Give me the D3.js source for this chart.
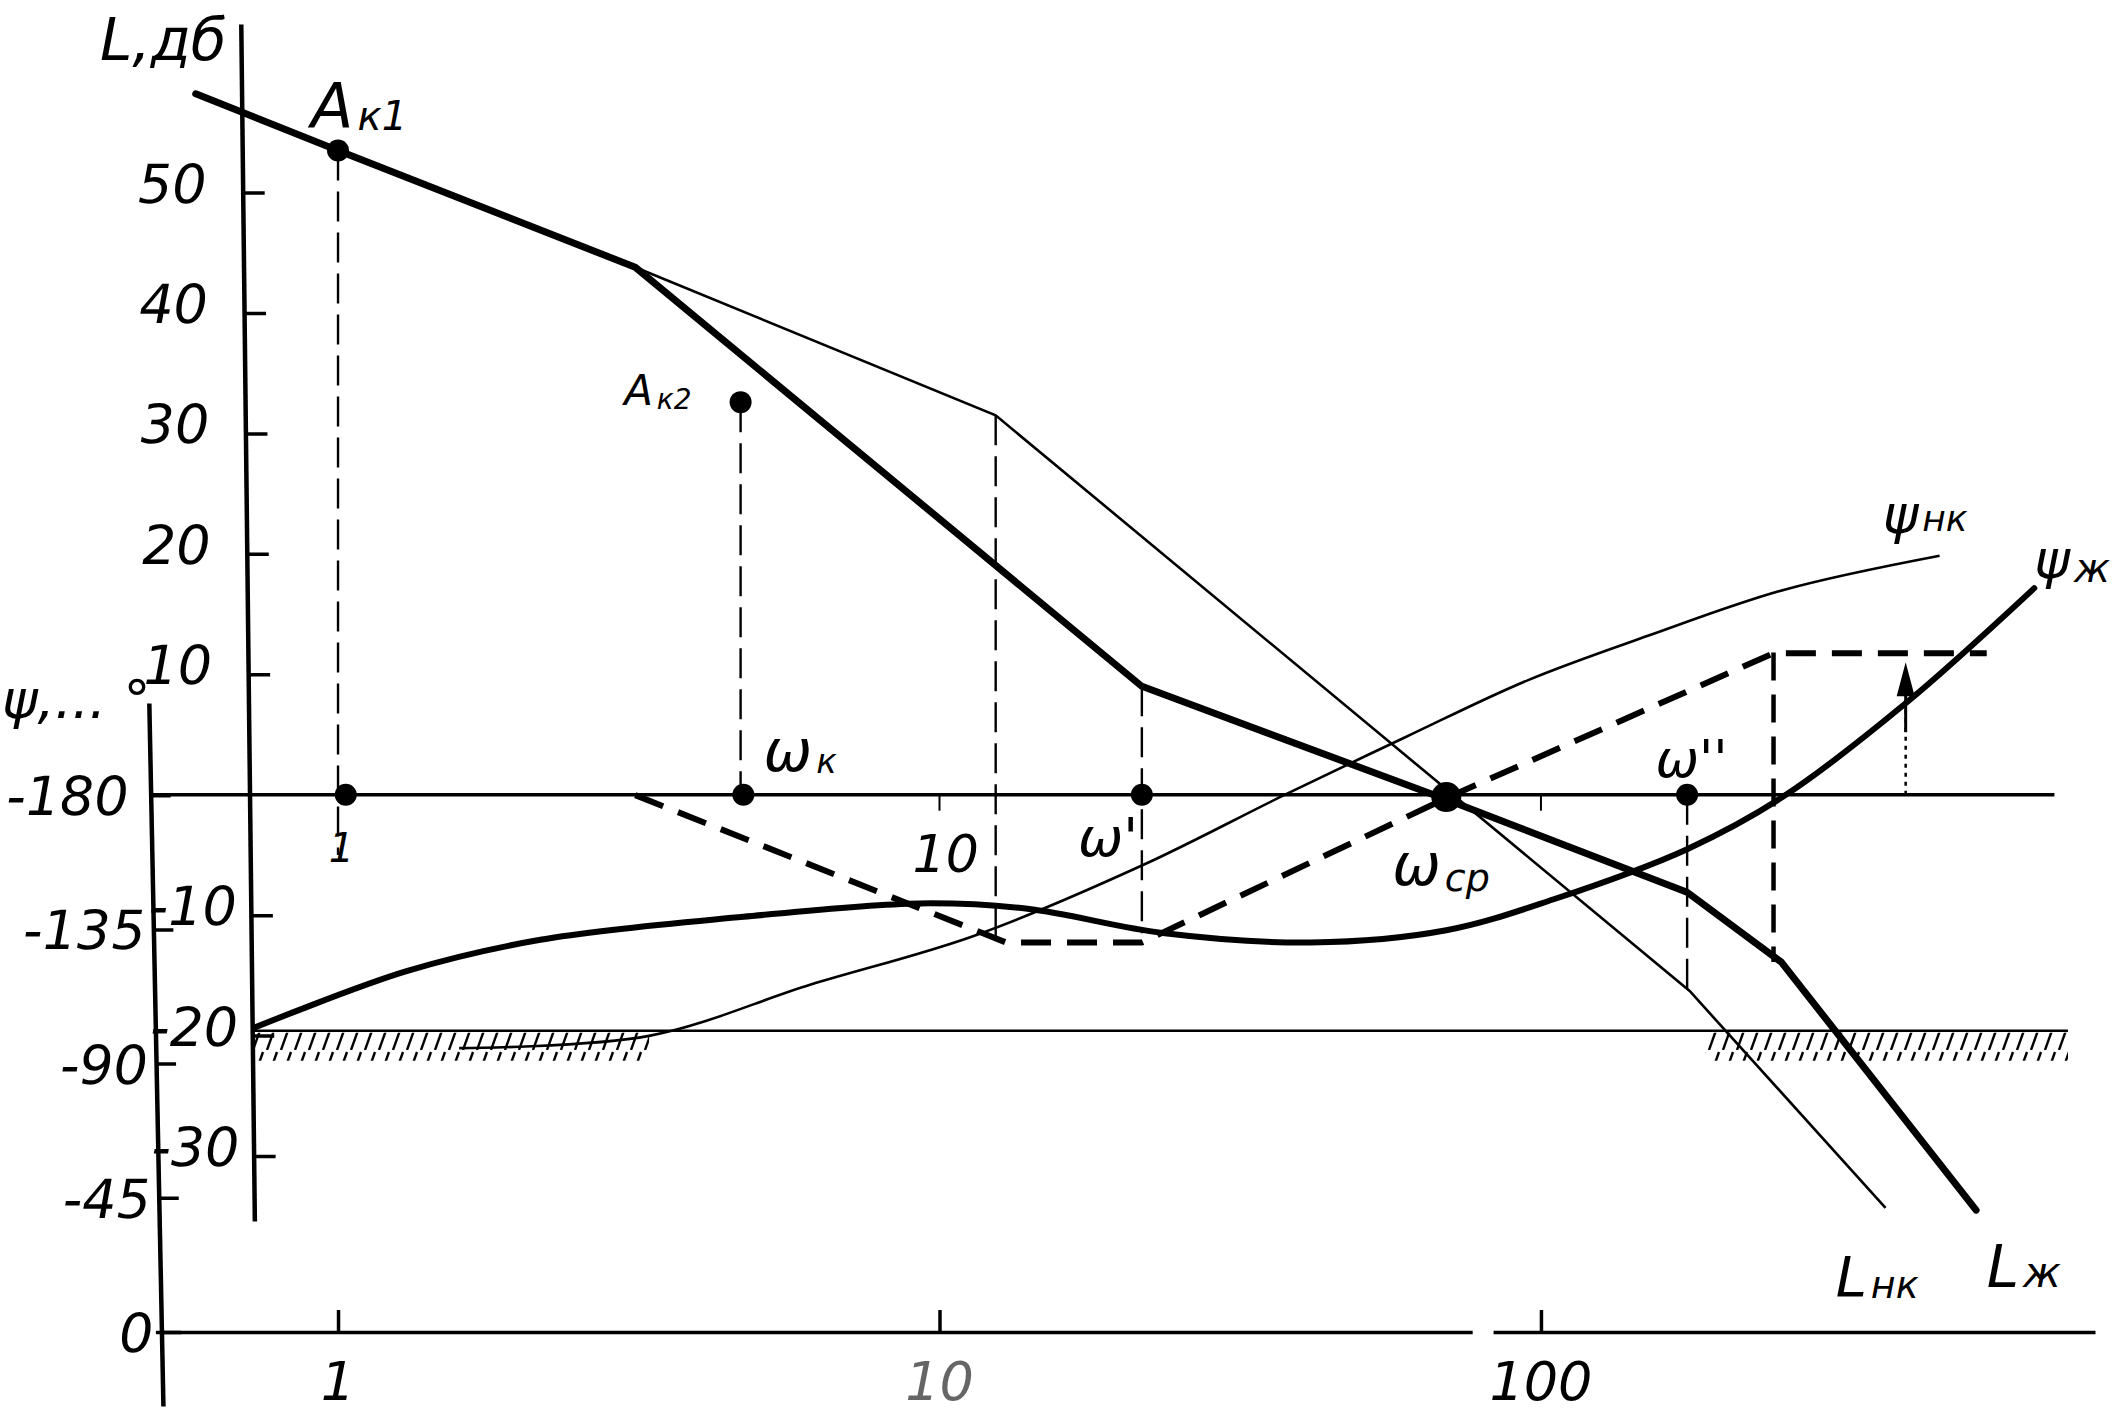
<!DOCTYPE html>
<html><head><meta charset="utf-8">
<script src="https://cdn.jsdelivr.net/npm/d3@7"></script>
<style>
html,body{margin:0;padding:0;background:#fff;}
svg{display:block;background:#fff;}
text{font-family:"DejaVu Sans","Liberation Sans",sans-serif;font-style:italic;font-weight:200;fill:#000;}
</style></head><body>
<svg id="c" width="2120" height="1416"></svg>
<script>
// ---------------- data ----------------
const freqTicks = [1, 10, 100];
const freqTickLabels = ["1", "10", "100"];
const dbTicks = [50, 40, 30, 20, 10, -10, -20, -30];
const dbTickLabels = ["50", "40", "30", "20", "10", "-10", "-20", "-30"];
const phaseTicks = [-180, -135, -90, -45, 0];
const phaseTickLabels = ["-180", "-135", "-90", "-45", "0"];

// desired LAFC L_ж  [omega, dB]
const L_zh = [[0.58, 58.2], [1, 53.5], [3.12, 43.8], [21.7, 9.0], [69.6, -0.4], [175, -8.1], [251, -13.9], [529, -34.5]];
// uncorrected LAFC L_нк (coincides with L_ж below omega = 3.12)
const L_nk = [[3.12, 43.8], [12.4, 31.5], [176.7, -16.3], [374, -34.3]];
// phase curves [omega, degrees]
const psi_zh = [[0.725, -102], [1.30, -121], [2.17, -131.5], [4.72, -139.2], [9.26, -143.7], [14.0, -141.9], [23.5, -133.8], [41.5, -130.6], [69.6, -134.7], [105, -145.1], [175, -161.9], [251, -179.1], [404, -210.8], [661, -249.4]];
const psi_nk = [[1.59, -95.2], [3.29, -99.3], [6.11, -116.5], [11.4, -132.8], [21.7, -156.4], [37.4, -180], [59.6, -199.5], [95, -218.5], [151, -233.5], [254, -248.9], [460, -260.3]];
const psi_aux = [[3.12, -180], [12.9, -130.6], [21.7, -130.6], [69.6, -179], [243.6, -227.6], [551, -227.6]];
// marked points [omega, dB]
const dotPts = [[1, 53.5], [4.67, 32.6], [1.03, 0], [4.72, 0], [21.7, 0], [175, 0]];
const crossPt = [69.6, -0.2];
// vertical dashed projections [omega, dB top, dB bottom]
const dropLines = [[1, 53.5, -5.0], [4.67, 32.6, 0], [12.4, 31.5, -12.2], [21.7, 9.0, -11.5], [175, 0, -16.3]];
const dropThick = [[243.6, 11.8, -13.9]];
const arrowPt = [404, 0, 11.0];
// forbidden region boundary (dB) and hatched spans (omega)
const forbidLevel = -19.6;
const forbidLine = [0.719, 752];
const hatchSpans = [[0.719, 3.29], [188, 752]];
const zeroLine = [0.488, 714];
const axisGap = [77, 83.4];

// ---------------- scales ----------------
const svg = d3.select("#c");
const x = d3.scaleLog().domain([0.497, 834]).range([155.4, 2095]);
const yL = d3.scaleLinear().domain([-35.4, 64]).range([1221, 24]);
const yP = d3.scaleLinear().domain([24.8, -210.9]).range([1406, 703]);

const defs = svg.append("defs");
const pat = defs.append("pattern").attr("id", "hatch").attr("patternUnits", "userSpaceOnUse")
  .attr("width", 14).attr("height", 30);
pat.append("path").attr("d", "M1,30 L11,2").attr("stroke", "#000").attr("stroke-width", 2.4);

const g = svg.append("g");

// ---- axes ----
const fAxis = g.append("g").attr("transform", `translate(0,${yP(0)})`)
  .call(d3.axisBottom(x).tickValues(freqTicks).tickSizeInner(-22).tickSizeOuter(0).tickFormat(""));
fAxis.select(".domain").attr("stroke-width", 3.5);
fAxis.selectAll(".tick line").attr("stroke-width", 3.5);
g.append("rect").attr("x", x(axisGap[0])).attr("y", yP(0) - 8).attr("width", x(axisGap[1]) - x(axisGap[0])).attr("height", 16).attr("fill", "#fff");
g.selectAll(".flab").data(freqTicks).join("text").attr("class", "flab")
  .attr("x", d => x(d)).attr("y", yP(0) + 68).attr("text-anchor", "middle")
  .attr("font-size", 54).attr("fill", (d, i) => i === 1 ? "#bbb" : "#000")
  .style("opacity", (d, i) => i === 1 ? 0.6 : 1)
  .text((d, i) => freqTickLabels[i]);

const Laxis = g.append("g").attr("transform", "translate(240.5,0) skewX(0.65)")
  .call(d3.axisRight(yL).tickValues(dbTicks).tickSizeInner(22).tickSizeOuter(0).tickFormat(""));
Laxis.select(".domain").attr("stroke-width", 4.5);
Laxis.selectAll(".tick line").attr("stroke-width", 3.5);
Laxis.selectAll(".Llab").data(dbTicks).join("text").attr("class", "Llab")
  .attr("x", d => d > 0 ? -36 : -14).attr("y", d => yL(d) + 10).attr("text-anchor", "end")
  .attr("font-size", 54).text((d, i) => dbTickLabels[i]);

const Paxis = g.append("g").attr("transform", "translate(134.7,0) skewX(1.15)")
  .call(d3.axisRight(yP).tickValues(phaseTicks).tickSizeInner(20).tickSizeOuter(0).tickFormat(""));
Paxis.select(".domain").attr("stroke-width", 4.5);
Paxis.selectAll(".tick line").attr("stroke-width", 3.5);
Paxis.selectAll(".Plab").data(phaseTicks).join("text").attr("class", "Plab")
  .attr("x", d => d === -180 ? -22 : -8).attr("y", d => yP(d) + 20).attr("text-anchor", "end")
  .attr("font-size", 54).text((d, i) => phaseTickLabels[i]);

// axis titles
g.append("text").attr("x", 100).attr("y", 60).attr("font-size", 58).text("L,дб");
g.append("text").attr("x", 2).attr("y", 718).attr("font-size", 54).text("ψ,... °");

// ---- 0 dB / -180 line ----
g.append("line").attr("x1", x(zeroLine[0])).attr("x2", x(zeroLine[1]))
  .attr("y1", yL(0)).attr("y2", yL(0)).attr("stroke", "#000").attr("stroke-width", 3.5);
g.selectAll(".ztick").data([10, 100]).join("line").attr("class", "ztick")
  .attr("x1", d => x(d)).attr("x2", d => x(d)).attr("y1", yL(0)).attr("y2", yL(0) + 16)
  .attr("stroke", "#000").attr("stroke-width", 2);

// ---- forbidden region ----
g.append("line").attr("x1", x(forbidLine[0])).attr("x2", x(forbidLine[1]))
  .attr("y1", yL(forbidLevel)).attr("y2", yL(forbidLevel)).attr("stroke", "#000").attr("stroke-width", 2.6);
g.selectAll(".hatch").data(hatchSpans).join("rect").attr("class", "hatch")
  .attr("x", d => x(d[0])).attr("width", d => x(d[1]) - x(d[0]))
  .attr("y", yL(forbidLevel) + 2).attr("height", 28).attr("fill", "url(#hatch)");

// ---- projection lines ----
g.selectAll(".drop").data(dropLines).join("line").attr("class", "drop")
  .attr("x1", d => x(d[0])).attr("x2", d => x(d[0])).attr("y1", d => yL(d[1])).attr("y2", d => yL(d[2]))
  .attr("stroke", "#000").attr("stroke-width", 2.4).attr("stroke-dasharray", "30,11");
g.selectAll(".dropT").data(dropThick).join("line").attr("class", "dropT")
  .attr("x1", d => x(d[0])).attr("x2", d => x(d[0])).attr("y1", d => yL(d[1])).attr("y2", d => yL(d[2]))
  .attr("stroke", "#000").attr("stroke-width", 4.5).attr("stroke-dasharray", "28,14");

// arrow
g.append("line").attr("x1", x(arrowPt[0])).attr("x2", x(arrowPt[0]))
  .attr("y1", yL(arrowPt[1])).attr("y2", yL(arrowPt[2]) + 30)
  .attr("stroke", "#000").attr("stroke-width", 2.5).attr("stroke-dasharray", "4,5");
g.append("path").attr("d", () => {
  const ax = x(arrowPt[0]), ay = yL(arrowPt[2]);
  return `M${ax},${ay} L${ax - 9},${ay + 34} L${ax + 9},${ay + 34} Z`;
}).attr("fill", "#000");
g.append("line").attr("x1", x(arrowPt[0])).attr("x2", x(arrowPt[0]))
  .attr("y1", yL(arrowPt[2]) + 30).attr("y2", yL(arrowPt[2]) + 70).attr("stroke", "#000").attr("stroke-width", 3);

// ---- curves ----
const lineL = d3.line().x(d => x(d[0])).y(d => yL(d[1]));
const lineP = d3.line().x(d => x(d[0])).y(d => yP(d[1]));
const linePs = d3.line().x(d => x(d[0])).y(d => yP(d[1])).curve(d3.curveCatmullRom.alpha(0.5));

g.append("path").datum(L_nk).attr("d", lineL).attr("fill", "none").attr("stroke", "#000").attr("stroke-width", 2.6);
g.append("path").datum(psi_nk).attr("d", linePs).attr("fill", "none").attr("stroke", "#000").attr("stroke-width", 2.6);
g.append("path").datum(psi_aux).attr("d", lineP).attr("fill", "none").attr("stroke", "#000")
  .attr("stroke-width", 6).attr("stroke-dasharray", "30,16");
g.append("path").datum(psi_zh).attr("d", linePs).attr("fill", "none").attr("stroke", "#000")
  .attr("stroke-width", 6).attr("stroke-linecap", "round");
g.append("path").datum(L_zh).attr("d", lineL).attr("fill", "none").attr("stroke", "#000")
  .attr("stroke-width", 7).attr("stroke-linecap", "round").attr("stroke-linejoin", "round");

// ---- dots ----
g.selectAll(".dot").data(dotPts).join("circle").attr("class", "dot")
  .attr("cx", d => x(d[0])).attr("cy", d => yL(d[1])).attr("r", 11).attr("fill", "#000");
g.append("circle").attr("cx", x(crossPt[0])).attr("cy", yL(crossPt[1])).attr("r", 15).attr("fill", "#000");

// ---- labels ----
function lab(w, db, main, sub, fs, sfs, dy) {
  const t = g.append("text").attr("x", x(w)).attr("y", yL(db)).attr("font-size", fs);
  t.append("tspan").text(main);
  if (sub) t.append("tspan").attr("font-size", sfs).attr("dy", dy).attr("dx", 4).text(sub);
}
lab(0.902, 55.4, "A", "к1", 62, 40, 2);
lab(2.99, 32.4, "A", "к2", 42, 28, 4);
lab(5.10, 2.0, "ω", "к", 58, 34, 2);
lab(0.965, -5.6, "1", null, 40);
lab(9.02, -6.4, "10", null, 52);
lab(17.0, -5.1, "ω'", null, 54);
lab(56.6, -7.5, "ω", "ср", 58, 38, 6);
lab(155, 1.5, "ω''", null, 52);
lab(370, 21.7, "ψ", "нк", 54, 36, -2);
lab(661, 18.0, "ψ", "ж", 54, 40, 4);
lab(309, -41.6, "L", "нк", 56, 38, 2);
lab(551, -40.9, "L", "ж", 58, 42, 0);
</script>
</body></html>
